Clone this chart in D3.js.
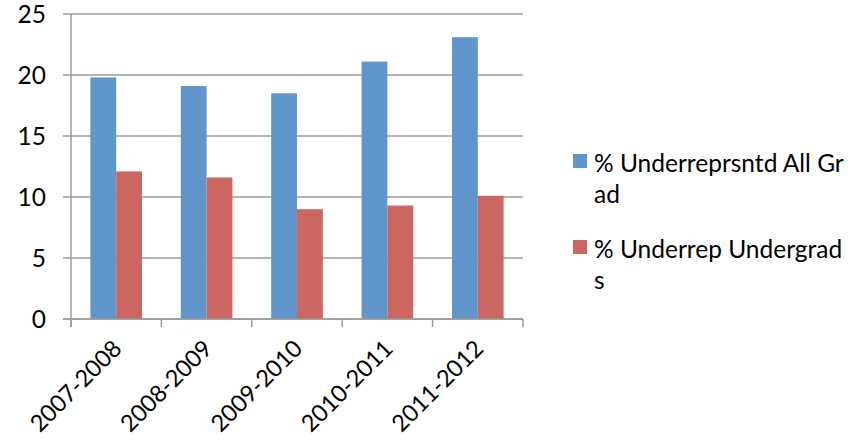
<!DOCTYPE html>
<html>
<head>
<meta charset="utf-8">
<script src="https://cdn.jsdelivr.net/npm/d3@7"></script>
<style>
  body { margin: 0; background: #fff; }
  text { font-family: Lato, "Open Sans", sans-serif; fill: #000; }
</style>
</head>
<body>
<script>
const categories = ['2007-2008', '2008-2009', '2009-2010', '2010-2011', '2011-2012'];
const allGrad = [19.8, 19.1, 18.5, 21.1, 23.1];
const undergrads = [12.1, 11.6, 9.0, 9.3, 10.1];
const seriesNames = ['% Underreprsntd All Gr|ad', '% Underrep Undergrad|s'];
const colors = ['#6096cb', '#cc6661'];
const yTicks = [0, 5, 10, 15, 20, 25];

const width = 865, height = 442;
const plotLeft = 71, plotRight = 523, plotTop = 14, plotBottom = 319;

const svg = d3.select('body').append('svg')
    .attr('width', width).attr('height', height);

const x = d3.scaleBand().domain(categories).range([plotLeft, plotRight]).paddingInner(0).paddingOuter(0);
// excel gap width 150% -> two bars take 2/3.5 of a category
const barW = x.bandwidth() / 3.5;
const y = d3.scaleLinear().domain([0, 25]).range([plotBottom, plotTop]);

// gridlines + y ticks
svg.append('g')
  .selectAll('line').data(yTicks).join('line')
    .attr('x1', plotLeft - 8).attr('x2', plotRight)
    .attr('y1', d => y(d)).attr('y2', d => y(d))
    .attr('stroke', '#9b9b9b').attr('stroke-width', 1.5);

svg.append('g')
  .selectAll('text').data(yTicks).join('text')
    .attr('x', 46).attr('y', d => y(d))
    .attr('dy', '0.36em')
    .attr('text-anchor', 'end')
    .style('font-size', '24.5px')
    .text(d => d);

// bars
const series = [allGrad, undergrads];
series.forEach((vals, s) => {
  svg.append('g')
    .selectAll('rect').data(categories).join('rect')
      .attr('x', d => x(d) + barW * 0.75 + s * barW)
      .attr('y', (d, i) => y(vals[i]))
      .attr('width', barW)
      .attr('height', (d, i) => y(0) - y(vals[i]))
      .attr('fill', colors[s]);
});

// axes lines
svg.append('line')
  .attr('x1', plotLeft).attr('x2', plotLeft).attr('y1', plotTop).attr('y2', plotBottom + 8)
  .attr('stroke', '#9b9b9b').attr('stroke-width', 1.5);
svg.append('line')
  .attr('x1', plotLeft - 8).attr('x2', plotRight).attr('y1', plotBottom).attr('y2', plotBottom)
  .attr('stroke', '#9b9b9b').attr('stroke-width', 1.5);

const bounds = categories.map(c => x(c)).concat([plotRight]);
svg.append('g')
  .selectAll('line').data(bounds).join('line')
    .attr('x1', d => d).attr('x2', d => d)
    .attr('y1', plotBottom).attr('y2', plotBottom + 8)
    .attr('stroke', '#9b9b9b').attr('stroke-width', 1.5);

// x labels, rotated
svg.append('g')
  .selectAll('text').data(categories).join('text')
    .attr('transform', d => `translate(${x(d) + x.bandwidth() / 2 + 1},344) rotate(-45)`)
    .attr('text-anchor', 'end')
    .attr('dy', '0.36em')
    .style('font-size', '23.5px')
    .text(d => d);

// legend
const legY = [154, 240];
seriesNames.forEach((name, i) => {
  const g = svg.append('g');
  g.append('rect')
    .attr('x', 573).attr('y', legY[i]).attr('width', 14).attr('height', 14)
    .attr('fill', colors[i]);
  const t = g.append('text')
    .attr('x', 594).attr('y', legY[i] + 18)
    .style('font-size', '24.5px');
  name.split('|').forEach((part, k) => {
    t.append('tspan').attr('x', 594).attr('dy', k ? 31 : 0).text(part);
  });
});
</script>
</body>
</html>
